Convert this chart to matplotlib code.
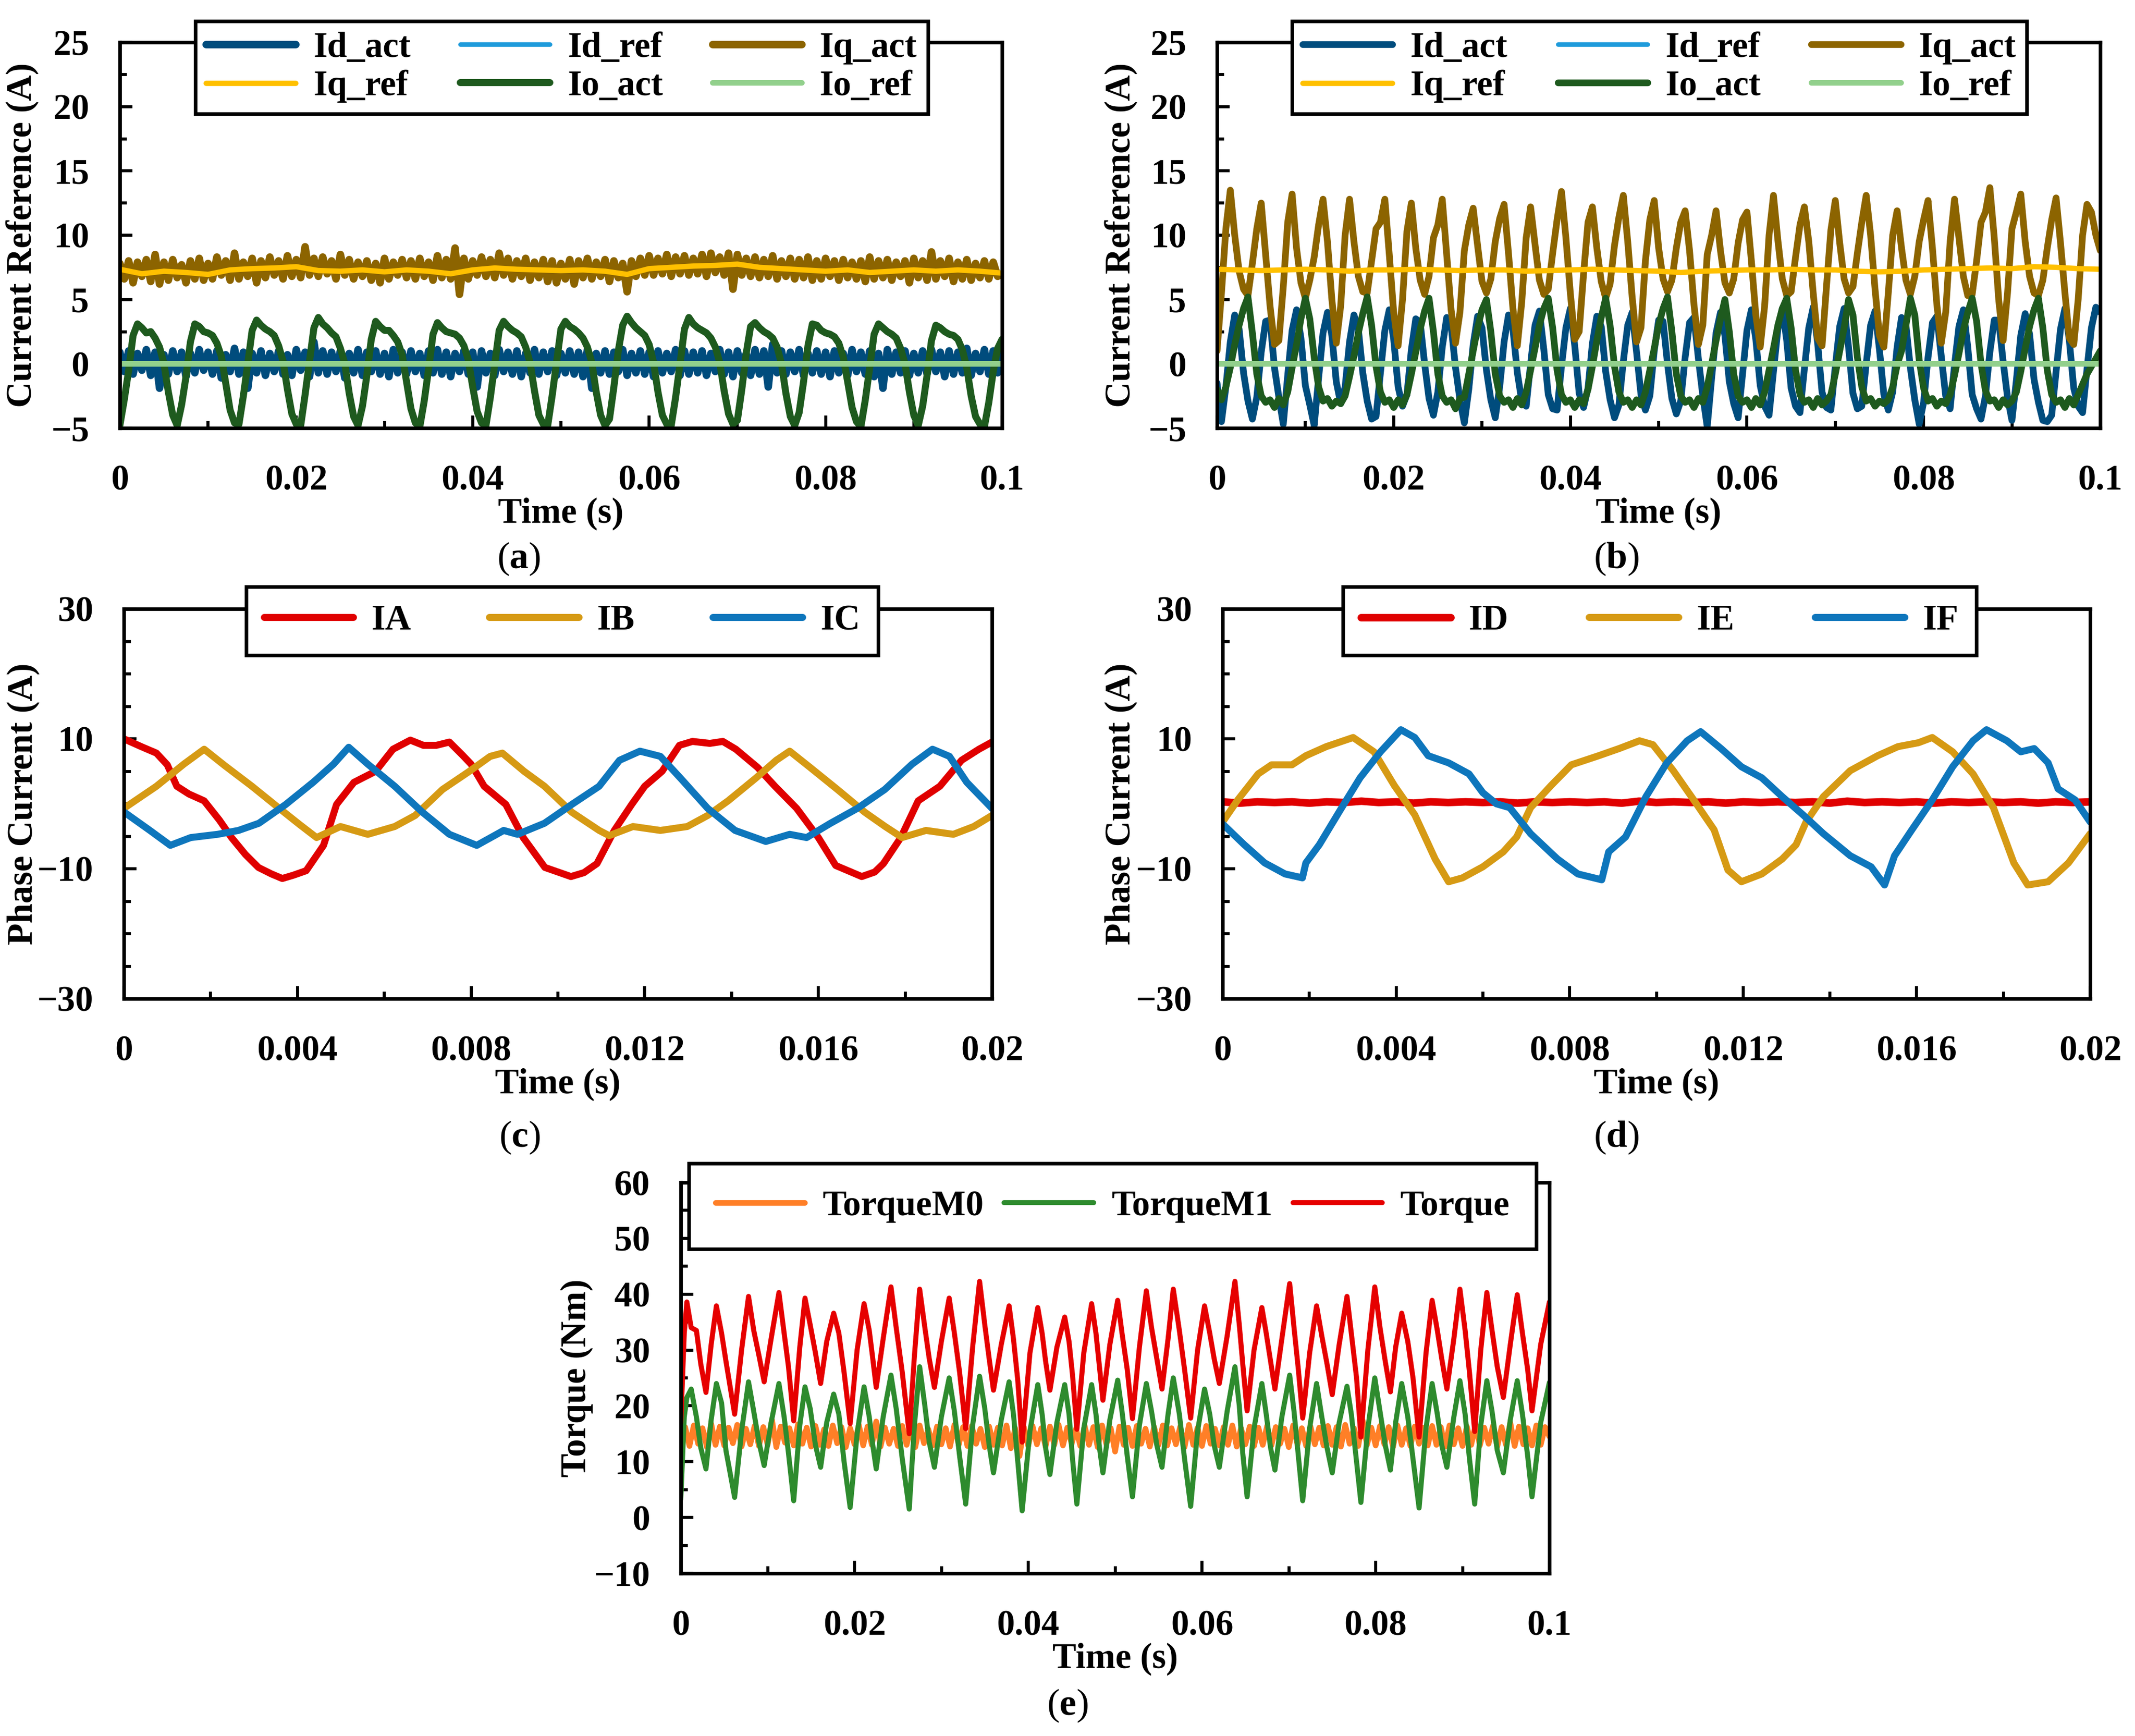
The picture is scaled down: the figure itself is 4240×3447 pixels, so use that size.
import matplotlib
matplotlib.use("Agg")
import matplotlib.pyplot as plt
from matplotlib.ticker import MultipleLocator, FuncFormatter
import numpy as np

plt.rcParams['font.family'] = ['Liberation Serif', 'DejaVu Serif']
plt.rcParams['font.weight'] = 'bold'
plt.rcParams['axes.labelweight'] = 'bold'
plt.rcParams['mathtext.fontset'] = 'custom'
plt.rcParams['mathtext.rm'] = 'Liberation Serif'
plt.rcParams['mathtext.bf'] = 'Liberation Serif:bold'
plt.rcParams['axes.linewidth'] = 1.3
plt.rcParams['lines.solid_capstyle'] = 'round'
plt.rcParams['lines.solid_joinstyle'] = 'round'

# ---------------- panel (a): currents, 0..0.1 s, sampled every 0.5 ms ----------------
id_act_a = [0.9, -0.6, 1.0, -0.8, 0.8, -0.5, 1.1, -0.9, 0.9, -1.9,
            0.7, -0.8, 1.0, -0.6, 0.9, -1.0, 0.8, -0.7, 1.1, -0.5,
            0.9, -0.8, 1.0, -1.1, 0.7, -0.6, 1.2, -0.8, 0.9, -1.9,
            0.8, -0.7, 1.0, -0.9, 0.8, -0.6, 1.0, -0.8, 0.7, -0.9,
            1.1, -0.5, 0.9, -1.0, 1.7, -0.7, 1.0, -0.8, 0.9, -0.6,
            1.0, -1.1, 0.8, -0.7, 1.1, -0.9, 0.9, -0.6, 1.0, -0.8,
            0.8, -1.0, 1.1, -0.7, 0.9, -0.8, 1.0, -0.6, 0.8, -0.9,
            1.0, -0.7, 1.1, -0.8, 0.9, -1.0, 0.8, -0.6, 1.0, -0.8,
            0.9, -1.8, 1.0, -0.7, 0.8, -0.9, 1.1, -0.6, 0.9, -0.8,
            1.0, -1.0, 0.8, -0.7, 1.1, -0.8, 0.9, -0.6, 1.0, -0.9,
            0.8, -0.7, 1.0, -0.8, 0.9, -1.0, 1.1, -1.9, 0.8, -0.7,
            1.0, -0.8, 0.9, -0.6, 1.1, -0.9, 0.8, -0.7, 1.0, -0.8,
            0.9, -1.0, 1.0, -0.7, 0.8, -0.6, 1.1, -0.9, 1.0, -0.8,
            0.9, -0.7, 1.0, -0.9, 0.8, -0.6, 1.1, -0.8, 0.9, -1.0,
            1.0, -0.7, 0.8, -0.9, 1.1, -0.8, 1.0, -1.8, 1.5, -0.7,
            1.0, -0.8, 0.9, -0.6, 1.1, -0.9, 0.8, -0.7, 1.0, -0.8,
            0.9, -1.0, 1.0, -0.7, 0.8, -0.9, 1.1, -0.6, 0.9, -0.8,
            1.0, -1.0, 0.8, -1.9, 1.1, -0.8, 0.9, -0.7, 1.0, -0.9,
            0.8, -0.7, 1.0, -0.8, 1.1, -0.6, 0.9, -1.0, 1.0, -0.8,
            0.9, -0.7, 1.2, -0.9, 0.8, -0.6, 1.1, -0.8, 1.0, -0.7,
            0.9]
iq_act_a = [7.8, 6.6, 8.0, 6.3, 7.9, 6.8, 8.1, 6.4, 8.5, 6.2,
            7.9, 6.5, 8.1, 6.7, 7.7, 6.3, 8.0, 6.6, 8.2, 6.5,
            7.8, 6.6, 8.3, 6.9, 8.0, 6.5, 8.6, 6.6, 7.9, 6.8,
            8.2, 6.3, 8.0, 6.7, 8.3, 6.9, 8.0, 6.6, 8.4, 6.8,
            8.1, 6.7, 9.1, 6.9, 8.2, 6.8, 8.3, 7.0, 8.0, 6.6,
            8.5, 6.9, 8.1, 6.6, 7.9, 6.8, 8.0, 6.5, 7.8, 6.3,
            8.2, 6.6, 7.9, 6.9, 8.1, 6.7, 8.0, 6.6, 8.2, 6.8,
            7.9, 6.5, 8.4, 6.7, 8.1, 6.6, 9.0, 5.4, 8.2, 6.6,
            8.0, 6.9, 8.3, 6.8, 8.1, 6.7, 8.6, 6.9, 8.2, 6.6,
            8.0, 6.8, 8.2, 6.5, 7.9, 6.7, 8.1, 6.4, 8.0, 6.3,
            7.8, 6.6, 8.1, 6.2, 8.0, 6.7, 8.2, 6.6, 7.9, 6.8,
            8.1, 6.4, 8.0, 6.7, 7.8, 5.6, 8.0, 6.8, 8.2, 6.9,
            8.4, 6.9, 8.2, 7.0, 8.5, 6.8, 8.3, 7.0, 8.4, 6.9,
            8.2, 7.0, 8.5, 6.8, 8.6, 7.1, 8.3, 6.9, 8.6, 5.8,
            8.5, 6.9, 8.2, 6.8, 8.3, 6.7, 8.1, 6.8, 8.4, 6.6,
            8.0, 6.8, 8.2, 6.6, 8.1, 6.7, 8.3, 6.5, 8.0, 6.6,
            8.2, 6.8, 8.0, 6.5, 8.1, 6.7, 7.9, 6.6, 8.0, 6.4,
            8.3, 6.6, 8.0, 6.7, 8.1, 6.5, 7.9, 6.8, 8.0, 6.3,
            8.2, 6.7, 8.0, 6.5, 8.7, 6.6, 8.0, 6.8, 8.2, 6.4,
            7.9, 6.6, 8.1, 6.5, 7.8, 6.7, 8.0, 6.6, 7.9, 6.8,
            7.0]
io_act_a = [-4.8, -2.8, -0.5, 2.2, 3.1, 2.8, 2.4, 2.5, 2.0, 1.3,
            0.0, -2.2, -4.0, -4.8, -3.2, -1.0, 1.7, 3.1, 2.9, 2.5,
            2.4, 2.2, 1.6, 0.6, -1.5, -3.6, -4.6, -4.7, -2.5, 0.0,
            2.6, 3.4, 3.0, 2.7, 2.5, 2.2, 1.4, 0.2, -2.0, -3.9,
            -4.7, -4.8, -2.4, 0.2, 2.8, 3.6, 3.1, 2.8, 2.4, 2.1,
            1.2, 0.0, -2.3, -4.1, -4.8, -3.3, -0.9, 1.9, 3.3, 2.9,
            2.6, 2.6, 2.2, 1.7, 0.7, -1.4, -3.5, -4.6, -4.9, -2.9,
            -0.4, 2.3, 3.2, 2.8, 2.5, 2.4, 2.3, 2.0, 1.4, 0.3,
            -1.8, -3.7, -4.6, -4.8, -2.6, 0.0, 2.6, 3.3, 2.9, 2.6,
            2.4, 2.1, 1.3, 0.1, -2.1, -4.0, -4.7, -4.8, -2.5, 0.1,
            2.7, 3.3, 2.9, 2.7, 2.4, 2.0, 1.3, 0.1, -2.2, -4.0,
            -4.8, -4.3, -1.8, 1.0, 3.0, 3.7, 3.2, 2.8, 2.5, 2.2,
            1.5, 0.1, -2.2, -4.0, -4.7, -4.8, -2.6, 0.0, 2.7, 3.6,
            3.1, 2.8, 2.6, 2.4, 2.0, 1.3, 0.1, -2.1, -3.9, -4.7,
            -4.4, -2.0, 0.8, 2.9, 3.2, 2.8, 2.5, 2.3, 2.0, 1.3,
            0.0, -2.3, -4.1, -4.8, -3.8, -1.4, 1.4, 3.1, 3.0, 2.6,
            2.4, 2.3, 2.1, 1.6, 0.5, -1.4, -3.4, -4.5, -4.9, -2.8,
            -0.3, 2.3, 3.1, 2.8, 2.5, 2.3, 2.0, 1.2, 0.0, -2.2,
            -4.0, -4.8, -3.3, -0.9, 1.8, 3.0, 2.8, 2.5, 2.3, 2.2,
            1.9, 1.1, -0.3, -2.5, -4.1, -4.7, -4.9, -3.0, -0.6, 1.2,
            1.9]
# reference traces, every 2.5 ms
iq_ref_a = [7.35, 7.0, 7.2, 7.1, 6.95, 7.3, 7.4, 7.45, 7.55, 7.25,
            7.2, 7.3, 7.15, 7.3, 7.2, 7.0, 7.3, 7.45, 7.35, 7.3,
            7.25, 7.3, 7.2, 6.95, 7.4, 7.5, 7.6, 7.65, 7.75, 7.5,
            7.4, 7.3, 7.2, 7.3, 7.1, 7.2, 7.3, 7.2, 7.3, 7.2,
            7.05]
id_ref_a = [0.0, 0.0]
io_ref_a = [0.0, 0.0]

# ---------------- panel (b) ----------------
id_act_b = [-1.5, -4.5, -1.8, 1.7, 3.8, 2.7, -0.7, -2.9, -4.3, -2.6,
            0.9, 3.3, 3.4, -0.3, -2.6, -4.7, -0.9, 2.6, 4.2, 2.0,
            -1.7, -3.2, -4.8, -1.1, 2.4, 4.0, 2.2, -1.4, -3.1, -1.8,
            1.7, 3.8, 2.7, -0.7, -2.9, -4.3, -4.1, -0.7, 2.6, 4.2,
            1.9, -1.8, -3.3, -2.4, 1.1, 3.5, 3.2, 0.0, -2.7, -4.0,
            -2.2, 1.3, 3.6, 3.0, -0.3, -2.8, -4.6, -2.0, 1.5, 3.7,
            2.8, -0.5, -2.8, -4.2, -1.8, 1.7, 3.8, 2.7, -0.7, -2.9,
            -3.3, 0.0, 3.0, 4.1, 1.1, -2.4, -3.5, -3.6, -0.2, 2.8,
            4.3, 1.4, -2.3, -3.4, -1.9, 1.6, 3.7, 2.9, -0.6, -2.8,
            -4.2, -3.2, 0.2, 3.0, 4.0, 0.9, -2.4, -3.6, -2.5, 1.0,
            3.4, 3.3, 0.0, -2.7, -3.9, -2.9, 0.5, 3.2, 3.6, 0.4,
            -2.5, -4.9, -1.1, 2.4, 4.0, 2.2, -1.4, -3.1, -4.2, -0.8,
            2.6, 4.2, 1.9, -1.7, -3.3, -4.0, -0.6, 2.7, 4.3, 1.8,
            -1.9, -3.3, -3.8, -0.4, 2.8, 4.4, 1.6, -2.2, -3.4, -3.6,
            -0.2, 2.9, 4.3, 1.3, -2.3, -3.5, -3.3, 0.0, 3.0, 4.1,
            1.1, -2.4, -3.6, -2.2, 1.3, 3.6, 3.0, -0.3, -2.8, -4.7,
            -3.0, 0.5, 3.2, 3.7, 0.6, -2.5, -3.5, -0.1, 2.9, 4.2,
            1.3, -2.4, -3.5, -4.3, -2.5, 0.9, 3.4, 3.4, 0.2, -2.6,
            -4.4, -1.3, 2.2, 3.9, 2.3, -1.2, -3.0, -4.4, -4.5, -4.0,
            -0.6, 2.7, 4.3, 1.8, -1.9, -3.3, -3.8, -0.4, 2.8, 4.4,
            4.0]
iq_act_b = [1.0, 5.5, 10.5, 13.5, 10.0, 7.2, 5.8, 5.3, 7.8, 10.5,
            12.5, 8.5, 4.5, 1.5, 1.8, 6.0, 11.0, 13.2, 9.0, 6.3,
            5.1, 6.5, 8.3, 10.8, 12.8, 9.5, 5.0, 1.6, 4.5, 10.0,
            12.8, 9.5, 6.8, 5.6, 5.5, 8.0, 10.5, 11.0, 12.8, 8.5,
            4.0, 1.4, 5.0, 10.3, 12.5, 9.0, 6.5, 5.4, 6.8, 9.8,
            10.8, 12.8, 8.5, 4.2, 1.6, 4.0, 8.8, 10.8, 12.1, 9.2,
            6.4, 5.5, 6.6, 9.5, 11.3, 12.4, 8.6, 4.3, 1.4, 4.8,
            9.8, 12.2, 9.3, 6.5, 5.4, 5.8, 8.6, 11.2, 13.4, 9.8,
            5.5, 1.9, 2.5, 7.0, 11.0, 12.2, 9.0, 6.4, 5.1, 6.2,
            9.2, 11.4, 13.1, 9.5, 5.2, 1.7, 2.8, 8.0, 11.2, 12.7,
            9.0, 6.6, 5.6, 6.5, 9.0, 11.0, 11.9, 8.8, 4.6, 1.5,
            3.0, 8.5, 10.0, 11.9, 8.8, 6.3, 5.5, 6.6, 9.4, 11.2,
            11.8, 8.0, 3.8, 1.3, 4.5, 10.0, 13.1, 9.6, 6.6, 5.3,
            5.6, 8.3, 10.8, 12.2, 9.5, 5.5, 2.0, 1.4, 6.0, 10.4,
            12.7, 9.4, 6.6, 5.5, 6.0, 8.6, 11.0, 13.1, 10.0, 5.8,
            2.2, 1.3, 5.5, 10.0, 11.9, 9.0, 6.5, 5.4, 6.8, 9.5,
            11.2, 12.7, 9.0, 4.6, 1.6, 4.0, 9.5, 12.8, 9.8, 6.8,
            5.3, 5.4, 8.0, 11.0, 11.8, 13.7, 9.8, 5.0, 1.8, 5.5,
            10.5, 11.8, 13.2, 9.5, 6.8, 5.5, 5.3, 6.5, 9.0, 11.2,
            12.9, 9.4, 5.5, 2.0, 1.5, 5.0, 10.0, 12.4, 11.8, 10.0,
            8.8]
io_act_b = [-2.0, -2.8, -1.8, -0.3, 1.5, 3.0, 4.3, 5.2, 2.4, -0.8,
            -2.5, -3.0, -2.8, -3.4, -2.7, -3.2, -2.2, -0.3, 1.5, 3.5,
            5.1, 3.5, 0.5, -1.8, -2.9, -2.7, -3.3, -2.9, -3.1, -2.5,
            -1.0, 0.6, 2.4, 3.9, 5.2, 3.0, -0.2, -2.2, -3.0, -2.8,
            -3.4, -2.8, -3.2, -2.4, -0.8, 0.9, 2.7, 4.1, 5.1, 2.5,
            -0.8, -2.5, -3.0, -2.8, -3.5, -2.7, -2.6, -0.8, 1.0, 2.8,
            4.2, 5.0, 2.5, -0.8, -2.5, -3.0, -2.8, -3.4, -2.7, -3.2,
            -2.2, -0.5, 1.2, 3.0, 4.3, 5.1, 2.8, -0.5, -2.4, -3.0,
            -2.8, -3.4, -2.8, -3.1, -2.0, -0.2, 1.8, 3.6, 5.1, 3.0,
            -0.2, -2.2, -3.0, -2.8, -3.4, -2.8, -3.2, -2.2, -0.5, 1.2,
            3.0, 4.3, 5.2, 2.5, -0.8, -2.5, -3.0, -2.8, -3.4, -2.7,
            -3.0, -1.8, 0.0, 1.8, 3.5, 5.0, 2.5, -0.8, -2.5, -3.0,
            -2.8, -3.4, -2.7, -3.2, -2.2, -0.5, 1.2, 3.0, 4.3, 5.1,
            2.8, -0.5, -2.4, -3.0, -2.8, -3.4, -2.7, -3.2, -2.9, -2.4,
            -0.8, 1.0, 2.8, 5.0, 3.8, 0.5, -1.8, -2.9, -2.7, -3.3,
            -2.9, -3.1, -2.8, -1.8, -0.1, 1.0, 3.0, 5.1, 3.8, 0.3,
            -1.9, -2.9, -2.7, -3.3, -2.9, -3.1, -2.4, -0.9, 0.8, 2.6,
            4.0, 5.1, 3.3, 0.0, -2.1, -2.9, -2.8, -3.4, -2.8, -3.2,
            -2.9, -2.2, -0.6, 1.2, 2.9, 4.2, 5.1, 2.8, -0.5, -2.4,
            -3.0, -2.8, -3.4, -2.7, -3.2, -2.4, -1.6, -0.8, -0.2, 0.4,
            1.0]
iq_ref_b = [7.35, 7.3, 7.25, 7.3, 7.35, 7.3, 7.2, 7.3, 7.3, 7.35,
            7.3, 7.25, 7.3, 7.3, 7.2, 7.25, 7.3, 7.35, 7.3, 7.25,
            7.2, 7.1, 7.2, 7.25, 7.3, 7.3, 7.35, 7.3, 7.3, 7.2,
            7.15, 7.2, 7.3, 7.35, 7.4, 7.45, 7.4, 7.55, 7.5, 7.4,
            7.35]
id_ref_b = [0.0, 0.0]
io_ref_b = [0.0, 0.0]

# ---------------- panel (c): phase currents A, B, C (0..0.02 s) ----------------
t_ia = [0, 0.0004, 0.00075, 0.001, 0.00122, 0.0015, 0.00185, 0.0022, 0.00248, 0.0028,
        0.0031, 0.0034, 0.00365, 0.0039, 0.0042, 0.0046, 0.0049, 0.0053, 0.0058, 0.0062,
        0.0066, 0.0069, 0.0072, 0.0075, 0.0078, 0.008, 0.0083, 0.0088, 0.0092, 0.0097,
        0.0103, 0.0106, 0.0109, 0.0113, 0.0117, 0.012, 0.0124, 0.0128, 0.0131, 0.0135,
        0.0138, 0.0141, 0.0146, 0.015, 0.0155, 0.016, 0.0164, 0.017, 0.0173, 0.0175,
        0.0179, 0.0183, 0.0188, 0.0193, 0.0197, 0.02]
ia = [10.0, 8.8, 7.8, 6.0, 2.7, 1.5, 0.45, -2.5, -5.2, -7.8,
      -9.8, -10.8, -11.5, -11.0, -10.3, -6.4, -0.1, 3.3, 5.0, 8.4,
      9.8, 9.0, 9.0, 9.5, 7.5, 6.1, 2.7, -0.1, -5.2, -9.8,
      -11.2, -10.6, -9.2, -4.1, -0.1, 2.7, 5.0, 9.0, 9.6, 9.3,
      9.6, 8.4, 5.6, 2.7, -0.7, -5.2, -9.5, -11.2, -10.5, -9.2,
      -5.2, 0.45, 2.7, 6.7, 8.4, 9.5]
t_ib = [0, 0.00075, 0.00138, 0.00185, 0.00232, 0.00295, 0.00358, 0.00405, 0.00444, 0.00499,
        0.00562, 0.00624, 0.00671, 0.00734, 0.00796, 0.00844, 0.00872, 0.00922, 0.00969, 0.01032,
        0.01095, 0.01118, 0.01173, 0.01236, 0.01298, 0.01345, 0.01392, 0.01455, 0.01503, 0.01534,
        0.01581, 0.01644, 0.01707, 0.01754, 0.01793, 0.01848, 0.01911, 0.01958, 0.02]
ib = [-0.7, 2.7, 6.1, 8.4, 5.9, 2.7, -0.7, -3.2, -5.2, -3.5,
      -4.7, -3.5, -1.8, 2.2, 5.0, 7.3, 7.8, 5.0, 2.7, -1.3,
      -4.1, -4.9, -3.5, -4.1, -3.5, -1.8, 0.45, 3.9, 6.7, 8.1,
      5.6, 2.2, -1.3, -3.5, -5.2, -4.1, -4.7, -3.5, -1.8]
t_ic = [0, 0.0006, 0.00107, 0.00154, 0.00216, 0.00264, 0.00311, 0.00373, 0.00436, 0.00483,
        0.00518, 0.00562, 0.00624, 0.00687, 0.0075, 0.00813, 0.00875, 0.00907, 0.00969, 0.01032,
        0.01095, 0.01142, 0.01189, 0.01236, 0.01283, 0.01345, 0.01408, 0.01479, 0.01534, 0.01573,
        0.01628, 0.0169, 0.01753, 0.01816, 0.01863, 0.01902, 0.01942, 0.02]
ic = [-1.25, -4.1, -6.4, -5.2, -4.7, -4.1, -3.0, -0.1, 3.3, 6.1,
      8.7, 6.1, 2.7, -1.25, -4.7, -6.4, -4.1, -4.7, -3.0, -0.1,
      2.7, 6.7, 8.1, 7.3, 3.9, -0.7, -4.1, -5.8, -4.7, -5.2,
      -3.0, -0.7, 2.2, 6.1, 8.4, 7.3, 3.3, -0.7]

# ---------------- panel (d): phase currents D, E, F ----------------
id_ph = [0.3, 0.1, 0.3, 0.2, 0.3, 0.1, 0.3, 0.2, 0.4, 0.2,
         0.3, 0.1, 0.3, 0.2, 0.3, 0.2, 0.3, 0.1, 0.3, 0.2,
         0.3, 0.2, 0.3, 0.1, 0.4, 0.2, 0.3, 0.2, 0.3, 0.1,
         0.3, 0.2, 0.3, 0.2, 0.3, 0.1, 0.4, 0.2, 0.3, 0.2,
         0.3, 0.1, 0.3, 0.2, 0.3, 0.2, 0.3, 0.1, 0.3, 0.2,
         0.3]
t_ie = [0, 0.00035, 0.00082, 0.00113, 0.0016, 0.00192, 0.00239, 0.00301, 0.00349, 0.00396,
        0.00443, 0.0049, 0.00521, 0.00553, 0.006, 0.00647, 0.00678, 0.0071, 0.00757, 0.00804,
        0.00867, 0.00914, 0.00961, 0.00992, 0.01039, 0.01086, 0.01133, 0.01165, 0.01196, 0.01243,
        0.0129, 0.01322, 0.01345, 0.01385, 0.01447, 0.0151, 0.01557, 0.01604, 0.01636, 0.01683,
        0.0173, 0.01777, 0.01824, 0.01856, 0.01903, 0.0195, 0.02]
ie = [-2.8, 0.6, 4.6, 6.0, 6.0, 7.4, 8.8, 10.2, 8.0, 2.8,
      -1.7, -8.5, -12.0, -11.4, -9.7, -7.4, -5.1, -0.6, 2.8, 6.0,
      7.4, 8.5, 9.7, 9.1, 5.1, 0.6, -4.0, -10.2, -12.0, -10.8,
      -8.5, -6.3, -2.8, 1.1, 5.1, 7.4, 8.8, 9.4, 10.2, 8.0,
      4.6, -0.6, -9.1, -12.5, -12.0, -9.1, -4.6]
t_if = [0, 0.0005, 0.00097, 0.00144, 0.00184, 0.00192, 0.00223, 0.0027, 0.00317, 0.00364,
        0.00411, 0.00443, 0.00474, 0.00521, 0.00568, 0.006, 0.00631, 0.00662, 0.0071, 0.00772,
        0.00819, 0.00874, 0.0089, 0.00929, 0.00976, 0.01024, 0.01071, 0.01102, 0.01149, 0.01196,
        0.01243, 0.0129, 0.01338, 0.01385, 0.01447, 0.01495, 0.01526, 0.01549, 0.01589, 0.01636,
        0.01683, 0.0173, 0.01761, 0.01808, 0.0184, 0.01871, 0.01903, 0.01926, 0.01965, 0.02]
if_ph = [-3.1, -6.3, -9.1, -10.8, -11.4, -9.1, -6.3, -1.1, 4.0, 8.0,
         11.4, 10.2, 7.4, 6.3, 4.6, 1.7, 0.0, -0.6, -4.6, -8.5,
         -10.8, -11.7, -7.4, -5.1, 1.1, 6.3, 9.7, 11.1, 8.5, 5.7,
         4.0, 1.1, -1.7, -4.6, -8.0, -9.7, -12.5, -8.0, -4.0, 0.6,
         5.7, 9.7, 11.4, 9.7, 8.0, 8.5, 6.3, 2.3, 0.6, -2.8]

# ---------------- panel (e): torque ----------------
torque_m0 = [14.5, 16.2, 12.8, 16.5, 13.2, 16.0, 12.6, 16.8, 13.0, 16.3,
             12.9, 16.1, 13.3, 16.6, 12.7, 15.9, 13.1, 16.4, 12.8, 16.2,
             13.0, 17.5, 12.6, 16.3, 13.4, 16.0, 12.9, 16.7, 13.2, 16.1,
             12.7, 16.4, 13.0, 15.8, 12.8, 16.5, 13.3, 16.2, 12.6, 16.0,
             13.1, 16.6, 12.9, 16.3, 13.0, 17.2, 12.7, 16.1, 13.2, 15.9,
             12.8, 16.4, 13.0, 16.2, 12.6, 16.5, 13.3, 15.8, 12.9, 16.3,
             13.1, 16.0, 12.7, 16.6, 13.0, 16.2, 12.8, 16.4, 13.2, 15.9,
             12.6, 16.3, 13.0, 16.1, 12.9, 16.5, 12.4, 16.0, 11.0, 16.2,
             12.8, 16.4, 13.1, 16.0, 12.7, 16.3, 13.0, 16.6, 12.9, 16.1,
             13.2, 15.9, 12.8, 16.4, 13.0, 16.2, 12.6, 16.5, 13.1, 16.0,
             11.8, 16.3, 13.0, 16.1, 12.8, 16.4, 13.2, 15.9, 12.7, 16.2,
             13.0, 16.5, 12.9, 16.0, 13.1, 16.3, 12.6, 16.6, 13.0, 16.1,
             12.8, 16.4, 13.2, 15.9, 12.9, 16.2, 13.0, 16.5, 12.7, 16.0,
             13.1, 16.3, 12.8, 16.1, 13.0, 16.4, 12.9, 16.2, 13.2, 15.9,
             12.6, 16.5, 13.0, 16.0, 12.8, 16.3, 13.1, 16.1, 12.9, 16.4,
             13.0, 16.2, 12.7, 16.6, 13.2, 16.0, 12.8, 17.4, 13.0, 16.1,
             12.9, 16.4, 13.1, 16.2, 12.6, 16.5, 13.0, 16.0, 12.8, 16.3,
             13.2, 16.1, 12.9, 16.4, 13.0, 16.2, 12.7, 16.5, 13.1, 16.0,
             12.8, 16.3, 13.0, 16.6, 12.9, 16.1, 13.2, 16.4, 12.7, 16.2,
             13.0, 17.0, 12.8, 16.3, 13.1, 16.0, 12.9, 16.5, 13.0, 16.2,
             14.5]
# turning points of TorqueM1 / Torque (start, then rise, peak, two falling points, trough)
t_torque = [0.0000, 0.0004, 0.0007, 0.0012, 0.0018, 0.0023, 0.0029,
            0.0035, 0.0041, 0.0047, 0.0052, 0.0062,
            0.0070, 0.0078, 0.0084, 0.0090, 0.0096,
            0.0104, 0.0113, 0.0119, 0.0124, 0.0130,
            0.0137, 0.0143, 0.0149, 0.0155, 0.0161,
            0.0168, 0.0176, 0.0182, 0.0188, 0.0195,
            0.0203, 0.0211, 0.0217, 0.0221, 0.0225,
            0.0233, 0.0242, 0.0248, 0.0255, 0.0263,
            0.0269, 0.0275, 0.0281, 0.0286, 0.0292,
            0.0300, 0.0309, 0.0315, 0.0321, 0.0328,
            0.0336, 0.0344, 0.0350, 0.0355, 0.0360,
            0.0369, 0.0378, 0.0383, 0.0388, 0.0393,
            0.0402, 0.0411, 0.0416, 0.0420, 0.0425,
            0.0433, 0.0442, 0.0447, 0.0451, 0.0456,
            0.0464, 0.0473, 0.0478, 0.0482, 0.0486,
            0.0494, 0.0503, 0.0508, 0.0514, 0.0520,
            0.0528, 0.0536, 0.0542, 0.0548, 0.0554,
            0.0561, 0.0567, 0.0574, 0.0580, 0.0587,
            0.0595, 0.0603, 0.0609, 0.0614, 0.0620,
            0.0629, 0.0638, 0.0643, 0.0647, 0.0652,
            0.0660, 0.0669, 0.0674, 0.0679, 0.0684,
            0.0692, 0.0701, 0.0706, 0.0711, 0.0716,
            0.0724, 0.0732, 0.0738, 0.0744, 0.0750,
            0.0758, 0.0767, 0.0772, 0.0778, 0.0783,
            0.0791, 0.0799, 0.0805, 0.0811, 0.0817,
            0.0823, 0.0830, 0.0837, 0.0843, 0.0850,
            0.0858, 0.0865, 0.0871, 0.0876, 0.0882,
            0.0890, 0.0897, 0.0903, 0.0908, 0.0914,
            0.0921, 0.0928, 0.0934, 0.0940, 0.0947,
            0.0955, 0.0963, 0.0969, 0.0975, 0.0980,
            0.0990, 0.1000]
torque_m1 = [3.3, 18.0, 21.5, 23.0, 18.0, 12.5, 8.7,
             17.5, 24.0, 20.5, 12.0, 3.6,
             15.5, 24.3, 19.0, 13.5, 9.3,
             17.0, 24.0, 18.0, 11.5, 3.0,
             16.5, 23.4, 19.5, 13.0, 9.0,
             17.0, 22.1, 18.5, 10.0, 1.8,
             15.0, 23.4, 18.0, 13.0, 8.7,
             18.0, 25.5, 19.5, 10.5, 1.5,
             16.5, 27.0, 20.0, 13.5, 9.0,
             18.0, 25.0, 19.0, 11.0, 2.4,
             16.5, 25.3, 19.5, 13.0, 8.0,
             17.5, 24.3, 18.5, 10.0, 1.2,
             15.5, 23.8, 18.5, 12.5, 7.7,
             17.0, 23.8, 18.5, 10.5, 2.4,
             16.0, 23.8, 18.5, 12.5, 8.0,
             17.5, 24.6, 19.0, 11.0, 3.7,
             16.5, 24.0, 19.0, 13.0, 9.0,
             18.5, 25.0, 18.5, 10.5, 2.0,
             15.5, 23.0, 18.5, 13.0, 9.0,
             19.0, 27.0, 20.0, 11.5, 3.7,
             16.0, 24.0, 18.5, 12.5, 8.5,
             18.0, 25.5, 19.0, 11.0, 3.0,
             16.0, 24.0, 18.0, 12.5, 8.0,
             17.0, 23.5, 18.5, 10.0, 2.7,
             16.0, 25.0, 19.0, 13.0, 8.5,
             17.0, 24.0, 18.0, 10.5, 1.7,
             16.0, 24.0, 18.5, 13.0, 9.0,
             18.0, 24.5, 18.5, 10.5, 2.4,
             16.5, 24.5, 19.0, 12.0, 8.0,
             17.5, 24.5, 18.5, 11.0, 3.7,
             17.0, 24.2]
torque = [17.0, 33.0, 38.6, 34.0, 33.5, 27.5, 22.4,
          31.0, 37.9, 33.0, 28.0, 18.5,
          30.0, 39.6, 33.5, 29.0, 24.3,
          32.0, 40.3, 33.0, 27.0, 17.3,
          30.5, 39.3, 34.5, 29.5, 24.0,
          31.5, 36.6, 33.0, 26.0, 16.8,
          30.0, 38.3, 33.5, 28.5, 23.3,
          32.0, 41.3, 34.0, 26.0, 15.0,
          29.0, 40.9, 34.0, 28.5, 23.3,
          31.5, 39.3, 33.0, 26.0, 15.9,
          30.5, 42.3, 34.5, 28.5, 22.8,
          31.0, 37.9, 32.0, 24.5, 13.5,
          29.5, 37.6, 33.0, 28.0, 22.8,
          30.5, 35.9, 31.5, 25.5, 15.8,
          29.5, 38.3, 33.0, 27.0, 21.0,
          31.0, 38.9, 33.0, 26.5, 17.7,
          30.5, 40.6, 34.0, 28.5, 23.0,
          32.0, 40.9, 33.5, 26.5, 17.8,
          30.0, 37.9, 33.0, 28.5, 24.0,
          32.5, 42.3, 34.5, 27.5, 19.1,
          30.0, 37.6, 33.0, 28.0, 23.0,
          32.0, 41.9, 34.0, 26.5, 17.8,
          29.5, 37.9, 32.5, 27.5, 22.0,
          31.0, 39.6, 33.0, 25.0, 14.4,
          30.0, 41.3, 34.0, 28.0, 22.5,
          30.5, 36.6, 31.5, 25.0, 14.4,
          29.5, 38.9, 33.5, 28.5, 23.0,
          32.0, 40.9, 33.5, 26.0, 15.4,
          30.0, 40.3, 33.5, 27.0, 21.5,
          31.0, 39.9, 33.0, 26.5, 19.1,
          31.0, 38.6]

# ---------------- figure ----------------
W, H = 4240, 3447
fig = plt.figure(figsize=(W / 400, H / 400), dpi=400)


def axes_px(x0, y0, x1, y1):
    return fig.add_axes([x0 / W, 1 - y1 / H, (x1 - x0) / W, (y1 - y0) / H])


def tick_fmt(v, pos):
    return ('%g' % round(v, 6)).replace('-', '\u2212')


def style(ax, xmax, xmaj, xmin, ylo, yhi, ymaj, ymin, yoff=0.0):
    ax.set_xlim(0, xmax)
    ax.set_ylim(ylo, yhi)
    ax.xaxis.set_major_locator(MultipleLocator(xmaj))
    ax.xaxis.set_minor_locator(MultipleLocator(xmin))
    ax.yaxis.set_major_locator(MultipleLocator(ymaj, offset=yoff))
    ax.yaxis.set_minor_locator(MultipleLocator(ymin))
    ax.xaxis.set_major_formatter(FuncFormatter(tick_fmt))
    ax.yaxis.set_major_formatter(FuncFormatter(tick_fmt))
    ax.tick_params(which='both', direction='in', top=False, right=False,
                   width=1.1, labelsize=12.8)
    ax.tick_params(which='major', length=4.5)
    ax.tick_params(which='minor', length=2.5)
    ax.tick_params(axis='x', pad=13)
    ax.tick_params(axis='y', pad=11)
    ax.set_xlabel('Time (s)', fontsize=12.8, labelpad=0)


def legend(ax, ncol, x0, x1, ytop, pad, order=None):
    handles, labels = ax.get_legend_handles_labels()
    if order is not None:
        handles = [handles[i] for i in order]
        labels = [labels[i] for i in order]
    leg = ax.legend(handles, labels, loc='upper left',
                    bbox_to_anchor=(x0, ytop - 0.3, x1 - x0, 0.3),
                    mode='expand', ncol=ncol, fontsize=12.8, frameon=True,
                    fancybox=False, edgecolor='black', framealpha=1, borderaxespad=0,
                    handlelength=2.5, handletextpad=0.5, labelspacing=0.15,
                    borderpad=pad, columnspacing=1.0)
    leg.get_frame().set_linewidth(1.3)
    return leg


# legend entries are filled column by column, so this puts them in rows
row_order = [0, 3, 1, 4, 2, 5]

# (a)
ax = axes_px(238, 84, 1990, 850)
t = np.linspace(0, 0.1, len(io_act_a))
t_ref = np.linspace(0, 0.1, len(iq_ref_a))
t_flat = np.linspace(0, 0.1, len(id_ref_a))
ax.plot(t, id_act_a, color='#004C7D', lw=2.7, label='Id_act')
ax.plot(t_flat, id_ref_a, color='#1F9BDB', lw=1.6, label='Id_ref')
ax.plot(t, iq_act_a, color='#8C6400', lw=2.7, label='Iq_act')
ax.plot(t_ref, iq_ref_a, color='#FFC000', lw=1.9, label='Iq_ref')
ax.plot(t, io_act_a, color='#1E5A1E', lw=2.5, label='Io_act')
ax.plot(t_flat, io_ref_a, color='#92D08C', lw=2.0, label='Io_ref')
style(ax, 0.1, 0.02, 0.01, -5, 25, 5, 2.5)
ax.set_ylabel('Current Reference (A)', fontsize=12.8)
ax.yaxis.set_label_coords(-0.092, 0.5)
legend(ax, 3, 0.0856, 0.916, 1.055, 0.3, row_order)

# (b)
ax = axes_px(2417, 84, 4171, 850)
t = np.linspace(0, 0.1, len(iq_act_b))
t_ref = np.linspace(0, 0.1, len(iq_ref_b))
ax.plot(t, id_act_b, color='#004C7D', lw=2.4, label='Id_act')
ax.plot(t_flat, id_ref_b, color='#1F9BDB', lw=1.6, label='Id_ref')
ax.plot(t, iq_act_b, color='#8C6400', lw=2.4, label='Iq_act')
ax.plot(t_ref, iq_ref_b, color='#FFC000', lw=1.9, label='Iq_ref')
ax.plot(t, io_act_b, color='#1E5A1E', lw=2.4, label='Io_act')
ax.plot(t_flat, io_ref_b, color='#92D08C', lw=2.0, label='Io_ref')
style(ax, 0.1, 0.02, 0.01, -5, 25, 5, 2.5)
ax.set_ylabel('Current Reference (A)', fontsize=12.8)
ax.yaxis.set_label_coords(-0.090, 0.5)
legend(ax, 3, 0.085, 0.917, 1.055, 0.3, row_order)

# (c)
ax = axes_px(246, 1209, 1970, 1983)
ax.plot(t_ia, ia, color='#E00000', lw=2.5, label='IA')
ax.plot(t_ib, ib, color='#D69A14', lw=2.5, label='IB')
ax.plot(t_ic, ic, color='#0E76BC', lw=2.5, label='IC')
style(ax, 0.02, 0.004, 0.002, -30, 30, 20, 5, yoff=10)
ax.set_ylabel('Phase Current (A)', fontsize=12.8)
ax.yaxis.set_label_coords(-0.097, 0.5)
legend(ax, 3, 0.141, 0.869, 1.057, 0.5)

# (d)
ax = axes_px(2428, 1209, 4151, 1983)
t_d = np.linspace(0, 0.02, len(id_ph))
ax.plot(t_d, id_ph, color='#E00000', lw=2.7, label='ID')
ax.plot(t_ie, ie, color='#D69A14', lw=2.5, label='IE')
ax.plot(t_if, if_ph, color='#0E76BC', lw=2.5, label='IF')
style(ax, 0.02, 0.004, 0.002, -30, 30, 20, 5, yoff=10)
ax.set_ylabel('Phase Current (A)', fontsize=12.8)
ax.yaxis.set_label_coords(-0.098, 0.5)
legend(ax, 3, 0.139, 0.869, 1.057, 0.5)

# (e)
ax = axes_px(1352, 2348, 3077, 3124)
t = np.linspace(0, 0.1, len(torque_m0))
ax.plot(t, torque_m0, color='#FF7F27', lw=2.0, label='TorqueM0')
ax.plot(t_torque, torque_m1, color='#2E8B2E', lw=1.8, label='TorqueM1')
ax.plot(t_torque, torque, color='#E60000', lw=1.8, label='Torque')
style(ax, 0.1, 0.02, 0.01, -10, 60, 10, 5)
ax.set_ylabel('Torque (Nm)', fontsize=12.8)
ax.yaxis.set_label_coords(-0.101, 0.5)
legend(ax, 3, 0.0093, 0.985, 1.049, 0.74)

# panel letters
for x, y, s in [(1030, 1110, 'a'), (3210, 1110, 'b'), (1032, 2259, 'c'),
                (3210, 2259, 'd'), (2120, 3387, 'e')]:
    fig.text(x / W, 1 - y / H, r'($\mathbf{%s}$)' % s, ha='center', va='center',
             fontsize=13.5, fontweight='normal')

fig.savefig('out.png', dpi=400)
